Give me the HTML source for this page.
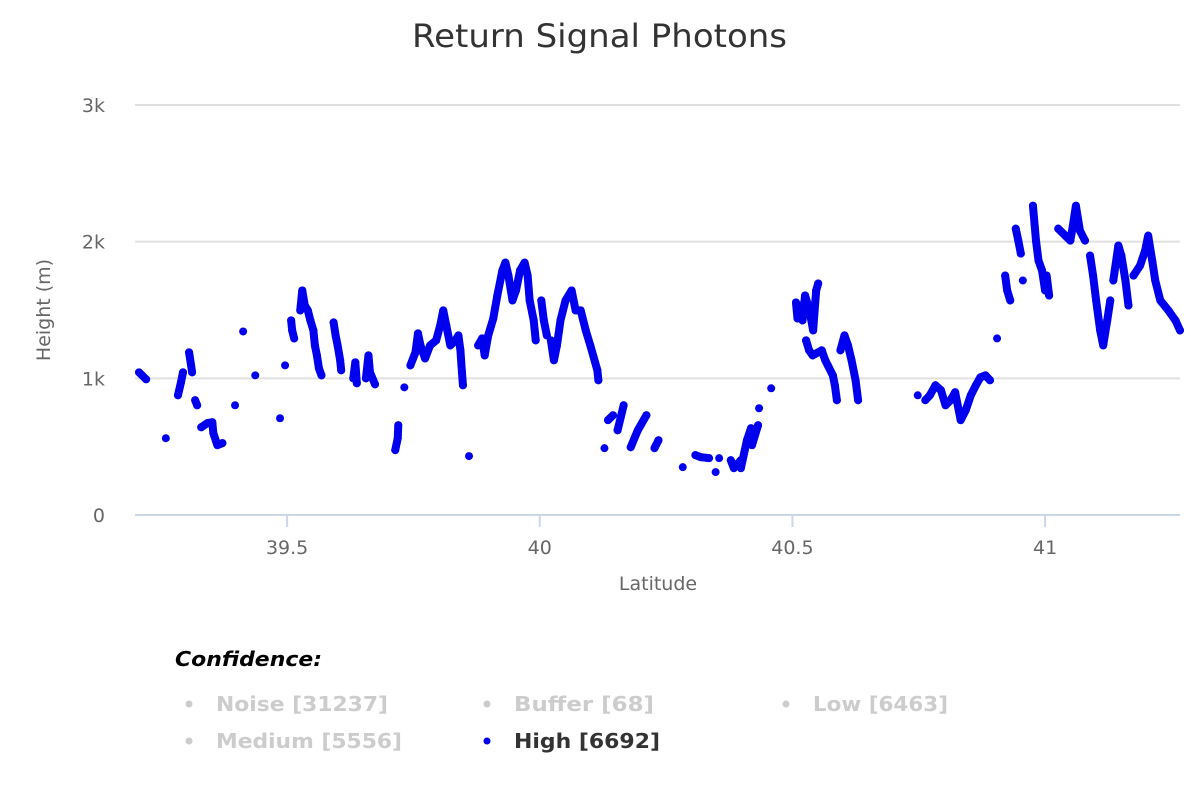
<!DOCTYPE html>
<html><head><meta charset="utf-8"><style>
body{margin:0;background:#fff;font-family:"Liberation Sans",sans-serif}
svg text{font-family:"DejaVu Sans","Liberation Sans",sans-serif}
</style></head><body>
<svg id="chart" width="1200" height="800">
<text x="412" y="47" textLength="375" lengthAdjust="spacingAndGlyphs" font-size="32" fill="#333">Return Signal Photons</text>
<g id="grid"></g><g id="axes"></g><g id="marks"></g>
<text x="50" y="310" transform="rotate(-90 50 310)" text-anchor="middle" font-size="19" fill="#666">Height (m)</text>
<text x="658" y="590" text-anchor="middle" font-size="19" fill="#666">Latitude</text>
<g>
<text x="175" y="666" textLength="147" lengthAdjust="spacingAndGlyphs" font-size="20" font-weight="bold" font-style="italic" fill="#000">Confidence:</text>
<g><circle cx="189" cy="704" r="3.5" fill="#ccc"/><text x="216" y="711" textLength="172" lengthAdjust="spacingAndGlyphs" font-size="20" font-weight="bold" fill="#ccc">Noise [31237]</text></g>
<g><circle cx="487" cy="704" r="3.5" fill="#ccc"/><text x="514" y="711" textLength="140" lengthAdjust="spacingAndGlyphs" font-size="20" font-weight="bold" fill="#ccc">Buffer [68]</text></g>
<g><circle cx="786" cy="704" r="3.5" fill="#ccc"/><text x="813" y="711" textLength="135" lengthAdjust="spacingAndGlyphs" font-size="20" font-weight="bold" fill="#ccc">Low [6463]</text></g>
<g><circle cx="189" cy="741" r="3.5" fill="#ccc"/><text x="216" y="748" textLength="186" lengthAdjust="spacingAndGlyphs" font-size="20" font-weight="bold" fill="#ccc">Medium [5556]</text></g>
<g><circle cx="487" cy="741" r="3.5" fill="#0000ee"/><text x="514" y="748" textLength="146" lengthAdjust="spacingAndGlyphs" font-size="20" font-weight="bold" fill="#333">High [6692]</text></g>
</g>
</svg>
<script>
const yTicks=[0,1000,2000,3000];
const yTickLabels=["0","1k","2k","3k"];
const xTicks=[39.5,40,40.5,41];
const xTickLabels=["39.5","40","40.5","41"];
const tracks=[
[[39.207,1044],[39.221,993]],
[[39.260,562]],
[[39.284,876],[39.290,971],[39.294,1044]],
[[39.306,1190],[39.310,1095],[39.312,1044]],
[[39.318,840],[39.322,803]],
[[39.330,642],[39.342,672],[39.352,679],[39.354,599],[39.362,511],[39.372,526]],
[[39.397,803]],[[39.413,1343]],[[39.437,1022]],[[39.486,708]],[[39.496,1095]],
[[39.508,1424],[39.510,1351],[39.514,1292]],
[[39.526,1497],[39.530,1643],[39.535,1533],[39.541,1497],[39.546,1424],[39.552,1351],[39.555,1241],[39.559,1168],[39.563,1073],[39.568,1022]],
[[39.592,1409],[39.596,1314],[39.600,1241],[39.605,1132],[39.607,1059]],
[[39.631,1000],[39.635,1117],[39.638,964]],
[[39.656,1000],[39.661,1168],[39.664,1044],[39.674,956]],
[[39.714,475],[39.719,562],[39.720,657]],
[[39.732,934]],
[[39.744,1095],[39.754,1190],[39.759,1329],[39.764,1241],[39.773,1146],[39.783,1241],[39.795,1278],[39.803,1387],[39.809,1497],[39.815,1387],[39.823,1241],[39.833,1278],[39.839,1314],[39.843,1205],[39.846,1044],[39.848,949]],
[[39.860,431]],
[[39.878,1241],[39.886,1292],[39.891,1168],[39.898,1314],[39.908,1438],[39.916,1606],[39.926,1789],[39.932,1847],[39.938,1752],[39.946,1570],[39.953,1643],[39.961,1789],[39.970,1847],[39.976,1752],[39.980,1570],[39.988,1424],[39.992,1278]],
[[40.003,1570],[40.008,1424],[40.014,1314]],
[[40.022,1278],[40.028,1132],[40.034,1241],[40.041,1424],[40.051,1570],[40.063,1643],[40.071,1497],[40.081,1497],[40.091,1351],[40.100,1241],[40.114,1059],[40.116,986]],
[[40.128,489]],[[40.135,694],[40.145,730]],[[40.154,620],[40.166,803]],
[[40.180,496],[40.194,620],[40.211,730]],[[40.227,489],[40.235,547]],
[[40.283,350]],
[[40.308,438],[40.319,423],[40.335,416]],[[40.348,314]],[[40.355,416]],[[40.378,401],[40.384,343],[40.398,401]],
[[40.398,343],[40.410,547],[40.418,635],[40.420,511],[40.432,657]],
[[40.434,781]],[[40.458,927]],
[[40.507,1555],[40.510,1438],[40.516,1533],[40.520,1424],[40.525,1606],[40.533,1511],[40.541,1351],[40.547,1643],[40.551,1694]],
[[40.527,1278],[40.533,1205],[40.540,1168],[40.558,1205],[40.565,1132],[40.570,1095],[40.580,1022],[40.584,949],[40.588,840]],
[[40.595,1205],[40.603,1314],[40.610,1241],[40.617,1132],[40.625,986],[40.630,840]],
[[40.748,876]],
[[40.763,840],[40.772,876],[40.783,949],[40.794,913],[40.803,803],[40.813,840],[40.822,898],[40.833,694],[40.843,767],[40.853,876],[40.863,949],[40.872,1007],[40.882,1022],[40.891,986]],
[[40.905,1292]],
[[40.921,1752],[40.925,1643],[40.931,1570]],
[[40.942,2095],[40.947,2008],[40.952,1913]],
[[40.956,1716]],
[[40.976,2263],[40.982,2008],[40.987,1862],[40.994,1789],[41.000,1643],[41.003,1752],[41.008,1606]],
[[41.026,2095],[41.040,2044],[41.050,2008],[41.055,2117],[41.061,2263],[41.069,2080],[41.079,2008]],
[[41.089,1898],[41.095,1752],[41.101,1570],[41.109,1351],[41.115,1241],[41.123,1424],[41.129,1570]],
[[41.135,1716],[41.145,1971],[41.151,1898],[41.159,1716],[41.165,1533]],
[[41.175,1752],[41.188,1825],[41.198,1935],[41.204,2044],[41.212,1862],[41.218,1716],[41.228,1570],[41.244,1497],[41.258,1424],[41.267,1351]]
];
const L=135,R=1180,T=105,B=515;
const xMin=39.199,xMax=41.267,yMax=3000;
const xs=v=>L+(v-xMin)/(xMax-xMin)*(R-L);
const ys=v=>B-v/yMax*(B-T);
const NS="http://www.w3.org/2000/svg";
function mk(t,a,p){const e=document.createElementNS(NS,t);for(const k in a)e.setAttribute(k,a[k]);p.appendChild(e);return e;}
const grid=document.getElementById('grid'),axes=document.getElementById('axes'),marks=document.getElementById('marks');
yTicks.forEach((v,i)=>{
 if(i>0){const g=mk('line',{x1:L,x2:R,y1:ys(v),y2:ys(v),stroke:'#e0e0e0','stroke-width':2},grid);
 
 }
 const t=mk('text',{x:105,y:ys(v)+7,'text-anchor':'end','font-size':19,fill:'#666'},axes);t.textContent=yTickLabels[i];
 
 
});
const ax=mk('line',{x1:L,x2:R,y1:B,y2:B,stroke:'#ccd6eb','stroke-width':2},axes);


xTicks.forEach((v,i)=>{
 mk('line',{x1:xs(v),x2:xs(v),y1:B,y2:B+12,stroke:'#ccd6eb','stroke-width':2},axes);
 const t=mk('text',{x:xs(v),y:B+39,'text-anchor':'middle','font-size':19,fill:'#666'},axes);t.textContent=xTickLabels[i];
 
 
});
tracks.forEach(tr=>{
 if(tr.length>1){const pl=mk('polyline',{points:tr.map(p=>xs(p[0])+','+ys(p[1])).join(' '),fill:'none',stroke:'#0000ee','stroke-width':8,'stroke-linejoin':'round','stroke-linecap':'round'},marks);
 
 }
 tr.forEach(p=>{const c=mk('circle',{cx:xs(p[0]),cy:ys(p[1]),r:4,fill:'#0000ee'},marks);
 
 });
});
</script>
</body></html>
